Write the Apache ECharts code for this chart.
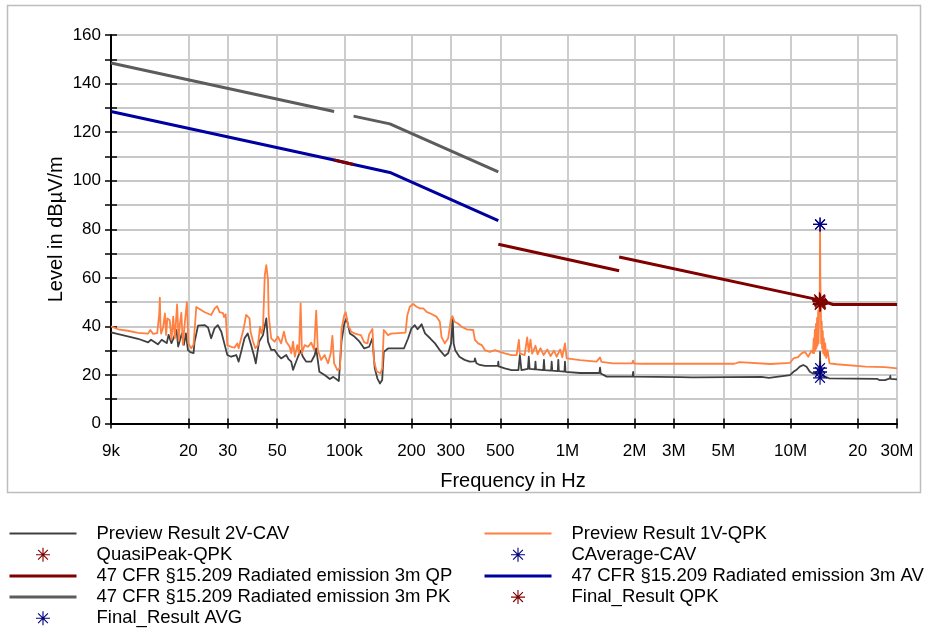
<!DOCTYPE html>
<html>
<head>
<meta charset="utf-8">
<title>Radiated emission 9 kHz - 30 MHz</title>
<script src="https://cdn.jsdelivr.net/npm/echarts@6/dist/echarts.min.js"></script>
<style>
  html, body { margin: 0; padding: 0; background: #ffffff; }
  #chart { width: 930px; height: 630px; }
</style>
</head>
<body>
<div id="chart"></div>
<script>
const FONT = '"Liberation Sans", Arial, Helvetica, sans-serif';

// Frequency axis: tick positions (Hz) and their labels
const freqTicks = [9e3, 2e4, 3e4, 5e4, 1e5, 2e5, 3e5, 5e5, 1e6, 2e6, 3e6, 5e6, 1e7, 2e7, 3e7];
const freqTickLabels = ['9k', '20', '30', '50', '100k', '200', '300', '500', '1M', '2M', '3M', '5M', '10M', '20', '30M'];

// Level axis (dBµV/m)
const levelMin = 0;
const levelMax = 160;
const levelStep = 10;

// Preview scan, CAV detector, vertical 2 [Hz, dBµV/m]
const previewCav = [
  [9.0e3,37.5],[10.7e3,35.9],[11.9e3,34.9],[13.2e3,33.4],[13.6e3,34.5],[14.6e3,32.6],[15.2e3,34.5],
  [15.6e3,33.8],[16.0e3,33.1],[16.3e3,36.5],[16.5e3,37.1],[16.8e3,33.1],[17.1e3,32.4],[17.4e3,36.5],
  [17.7e3,38.5],[18.0e3,31.7],[18.3e3,31.0],[18.7e3,37.1],[19.1e3,32.4],[19.5e3,37.1],[19.9e3,30.3],
  [20.4e3,29.4],[21.1e3,29.0],[21.3e3,33.4],[22.1e3,40.3],[23.7e3,40.5],[24.5e3,39.5],[25.3e3,35.1],
  [26.2e3,39.2],[27.1e3,40.5],[28.1e3,37.8],[28.9e3,33.4],[29.9e3,28.2],[31.1e3,27.5],[32.8e3,28.2],
  [33.6e3,25.5],[34.5e3,29.6],[35.7e3,35.1],[36.9e3,37.1],[38.2e3,32.3],[39.5e3,27.5],[40.1e3,24.8],
  [41.5e3,33.7],[43.2e3,36.4],[44.7e3,43.3],[45.5e3,33.7],[47.0e3,30.3],[48.7e3,30.3],[50.4e3,28.2],
  [52.1e3,26.8],[54.9e3,28.2],[56.2e3,26.5],[57.8e3,25.5],[58.9e3,22.1],[60.0e3,24.1],[62.0e3,27.5],
  [63.7e3,30.0],[65.2e3,27.5],[67.4e3,25.5],[71.1e3,25.5],[73.7e3,28.2],[74.8e3,30.9],[77.3e3,21.3],
  [81.6e3,20.0],[86.1e3,18.3],[89.2e3,19.2],[94.5e3,17.5],[97.1e3,33.7],[100e3,41.2],[102.4e3,43.3],
  [105.9e3,37.1],[111e3,35.8],[117e3,33.7],[122.8e3,30.9],[129.2e3,31.6],[133.6e3,35.1],[136.9e3,22.7],
  [140.6e3,18.6],[144.4e3,16.5],[147.8e3,17.9],[150.3e3,29.5],[157e3,30.9],[185e3,30.9],[193e3,35.0],
  [200e3,39.2],[207e3,40.5],[213e3,38.8],[218e3,39.9],[222e3,40.9],[230e3,37.1],[243e3,35.0],
  [255e3,33.0],[268e3,30.2],[282e3,27.8],[292e3,28.9],[301e3,33.0],[306e3,43.3],[309e3,33.0],
  [314e3,30.2],[328e3,27.5],[346e3,26.2],[365e3,25.5],[383e3,25.6],[385e3,26.8],[391e3,24.8],
  [405e3,24.1],[427e3,23.7],[473e3,23.7],[488e3,23.7],[490e3,25.5],[492e3,23.5],[498e3,23.4],
  [524e3,22.7],[562e3,22.0],[603e3,22.0],[612e3,28.2],[622e3,22.0],[665e3,22.5],[671e3,27.5],
  [677e3,22.5],[715e3,22.3],[719e3,25.5],[723e3,22.3],[780e3,22.0],[785e3,26.2],[790e3,22.0],
  [845e3,21.8],[850e3,25.5],[855e3,21.8],[905e3,21.6],[910e3,26.2],[915e3,21.6],[970e3,21.4],
  [975e3,25.5],[980e3,21.3],[1.14e6,20.8],[1.39e6,20.8],[1.40e6,23.0],[1.41e6,20.6],[1.5e6,19.3],
  [1.96e6,19.3],[1.97e6,21.3],[1.98e6,19.3],[3.2e6,19.1],[3.6e6,19.0],[3.66e6,18.4],[3.72e6,19.0],
  [7.4e6,19.2],[7.5e6,18.8],[8.0e6,18.8],[8.1e6,19.3],[9.95e6,19.9],[10.3e6,21.3],[10.6e6,22.0],
  [11.0e6,23.4],[11.4e6,24.1],[11.8e6,23.4],[12.2e6,21.3],[12.6e6,20.6],[13.5e6,20.6],[13.56e6,29.5],
  [13.62e6,20.0],[14.9e6,18.6],[24.4e6,18.4],[25.0e6,17.9],[26.5e6,17.9],[27.0e6,18.4],[27.9e6,18.6],
  [28.0e6,19.6],[28.1e6,18.4],[30e6,18.2]
];

// Preview scan, QPK detector, vertical 1 [Hz, dBµV/m]
const previewQpk = [
  [9.0e3,40.0],[9.7e3,38.8],[10.7e3,38.2],[11.9e3,37.3],[13.2e3,37.0],[13.5e3,38.5],[13.9e3,36.9],
  [14.5e3,37.2],[14.8e3,45.0],[14.9e3,51.8],[15.0e3,40.0],[15.1e3,37.0],[15.4e3,39.5],[15.7e3,45.3],
  [15.9e3,36.5],[16.1e3,43.3],[16.5e3,42.5],[16.8e3,34.5],[17.1e3,44.0],[17.4e3,35.0],[17.8e3,49.0],
  [18.1e3,34.0],[18.3e3,40.5],[18.6e3,45.6],[18.9e3,32.5],[19.3e3,42.0],[19.7e3,50.0],[20.0e3,33.0],
  [20.6e3,31.0],[21.1e3,32.5],[21.7e3,48.0],[22.1e3,47.4],[23.7e3,45.8],[25.3e3,44.7],[26.2e3,47.3],
  [26.9e3,48.3],[27.6e3,45.9],[28.6e3,45.5],[28.9e3,43.8],[29.4e3,45.0],[29.9e3,32.3],[31.1e3,31.6],
  [32.2e3,31.2],[33.1e3,33.0],[33.6e3,31.0],[34.5e3,35.1],[35.4e3,39.2],[36.3e3,44.7],[37.6e3,43.3],
  [38.0e3,37.8],[39.0e3,33.7],[39.9e3,31.0],[41.0e3,32.3],[41.9e3,39.9],[42.5e3,37.1],[43.2e3,39.2],
  [44.0e3,61.1],[44.7e3,65.2],[45.5e3,59.1],[45.8e3,44.7],[47.0e3,35.1],[48.7e3,33.7],[50.4e3,35.8],
  [52.1e3,33.0],[53.6e3,37.8],[54.9e3,33.7],[56.9e3,31.6],[57.8e3,28.9],[58.9e3,33.7],[60.0e3,27.5],
  [61.5e3,32.3],[62.6e3,28.9],[63.7e3,49.5],[64.6e3,28.9],[66.4e3,32.3],[68.8e3,31.6],[71.1e3,33.3],
  [73.2e3,30.3],[74.8e3,46.5],[76.1e3,30.3],[78.7e3,26.2],[81.6e3,28.2],[84.6e3,24.8],[86.9e3,28.9],
  [88.4e3,36.1],[90.0e3,24.8],[93.1e3,22.0],[95.6e3,22.7],[97.2e3,39.1],[100e3,44.7],[101.5e3,45.8],
  [103.8e3,40.5],[107.4e3,37.8],[111e3,37.1],[114.8e3,36.7],[118.7e3,36.4],[122.8e3,33.4],[127e3,33.0],
  [129.2e3,36.7],[133.6e3,38.9],[135.9e3,25.5],[139.7e3,21.4],[145.3e3,20.7],[147.8e3,22.7],
  [150.3e3,38.5],[157e3,36.4],[162e3,37.0],[188e3,37.4],[191.6e3,44.6],[196.5e3,48.1],[203.5e3,49.2],
  [210.8e3,48.1],[218.2e3,47.4],[225.9e3,47.4],[233.9e3,46.0],[246e3,45.1],[258.9e3,44.0],[268e3,41.9],
  [272.6e3,35.7],[282e3,33.0],[292e3,35.1],[300e3,42.6],[305e3,44.2],[312e3,41.9],[323e3,41.2],
  [335e3,39.9],[353e3,38.8],[378e3,38.5],[385e3,34.4],[398e3,33.0],[413e3,32.3],[427e3,30.2],
  [449e3,29.5],[473e3,30.2],[498e3,29.5],[524e3,28.9],[562e3,28.2],[592e3,28.2],[606e3,34.4],
  [612e3,28.9],[643e3,28.2],[660e3,35.5],[671e3,29.5],[683e3,34.5],[695e3,28.8],[719e3,32.0],
  [735e3,28.5],[757e3,31.0],[782e3,28.2],[812e3,30.5],[840e3,27.8],[870e3,30.0],[895e3,27.5],
  [928e3,30.5],[948e3,27.3],[975e3,33.0],[992e3,26.8],[1.14e6,26.1],[1.35e6,25.5],[1.40e6,27.2],
  [1.42e6,25.4],[1.6e6,24.8],[1.95e6,24.8],[1.97e6,25.9],[1.99e6,24.7],[2.18e6,24.6],[3.2e6,24.6],
  [5.6e6,24.6],[5.7e6,25.3],[5.9e6,25.3],[6.0e6,24.6],[8.1e6,24.5],[9.95e6,25.0],[10.3e6,26.8],
  [10.8e6,27.3],[11.2e6,28.9],[11.6e6,29.5],[12.0e6,27.5],[12.4e6,30.0],[12.6e6,29.0],[12.7e6,35.0],
  [12.75e6,29.0],[12.85e6,38.5],[12.9e6,30.0],[13.0e6,41.0],[13.05e6,31.0],[13.15e6,43.5],[13.2e6,32.0],
  [13.3e6,46.5],[13.35e6,33.0],[13.45e6,50.0],[13.52e6,55.0],[13.56e6,82.0],[13.6e6,60.0],[13.68e6,46.0],
  [13.72e6,33.0],[13.8e6,42.0],[13.85e6,31.0],[13.95e6,38.0],[14.0e6,29.0],[14.1e6,35.0],[14.2e6,28.0],
  [14.3e6,33.0],[14.45e6,27.0],[14.65e6,30.2],[14.95e6,24.8],[16.1e6,24.4],[21.7e6,23.4],[26.5e6,23.2],
  [26.7e6,24.0],[26.9e6,23.0],[30e6,22.7]
];

// 47 CFR §15.209 limits at 3 m [Hz, dBµV/m]; null marks a break in the line
const limitQP = [
  [9.0e4,108.5],[1.1e5,106.7],[2.0e5,null],[4.9e5,73.8],[1.705e6,62.9],[1.705e6,null],
  [1.705e6,68.6],[1.356e7,50.8],[1.55e7,49.0],[3.0e7,49.0]
];
const limitAV = [
  [9.0e3,128.5],[9.0e4,108.5],[1.1e5,106.7],[1.6e5,103.4],[4.9e5,83.6]
];
const limitPK = [
  [9.0e3,148.5],[9.0e4,128.5],[1.0e5,null],[1.1e5,126.6],[1.6e5,123.4],[4.9e5,103.6]
];

// Measured emissions at 13.56 MHz [Hz, dBµV/m]
const quasiPeakQpk = [[13.48e6,51.0],[13.56e6,50.2],[13.64e6,49.6],[13.56e6,49.0],[13.52e6,50.6]];
const caverageCav = [[13.56e6,82.0],[13.56e6,22.8],[13.56e6,21.2],[13.56e6,18.8]];
const finalQpk = [[13.56e6,50.6],[13.6e6,49.4]];
const finalAvg = [[13.56e6,82.0],[13.56e6,21.2]];

// Frequencies are plotted on a linear value axis in log10(Hz)
const lg = f => Math.log10(f);
const toXY = arr => arr.map(([f, v]) => [lg(f), v === null ? '-' : v]);
const tickPos = freqTicks.map(lg);
function freqLabel(val) {
  for (let i = 0; i < tickPos.length; i++) {
    if (Math.abs(tickPos[i] - val) < 1e-6) return freqTickLabels[i];
  }
  return '';
}

// Asterisk marker built from four bars
const STAR = 'path://M46,0 H54 V100 H46 Z M0,46 H100 V54 H0 Z ' +
  'M12.2,17.8 L17.8,12.2 L87.8,82.2 L82.2,87.8 Z M82.2,12.2 L87.8,17.8 L17.8,87.8 L12.2,82.2 Z';

const names = {
  cav: 'Preview Result 2V-CAV',
  qpk: 'Preview Result 1V-QPK',
  qpMark: 'QuasiPeak-QPK',
  cavMark: 'CAverage-CAV',
  qp: '47 CFR §15.209 Radiated emission 3m QP',
  av: '47 CFR §15.209 Radiated emission 3m AV',
  pk: '47 CFR §15.209 Radiated emission 3m PK',
  finQpk: 'Final_Result QPK',
  finAvg: 'Final_Result AVG'
};

const colors = {
  cav: '#404040', qpk: '#ff8040', qp: '#800000', av: '#0000a0', pk: '#5c5c5c',
  markRed: '#800000', markBlue: '#000080'
};

const labelText = { fontFamily: FONT, color: '#000', fontSize: 17 };
const nameText = { fontFamily: FONT, color: '#000', fontSize: 20 };
const legendText = { fontFamily: FONT, color: '#000', fontSize: 18.5 };

const lineSeries = (name, data, color, width, z) => ({
  name, type: 'line', data: toXY(data), symbol: 'none', connectNulls: false,
  lineStyle: { color, width, cap: 'butt', join: 'round' }, itemStyle: { color },
  xAxisIndex: 0, yAxisIndex: 0, z, animation: false, silent: true
});
const markSeries = (name, data, color, size, z) => ({
  name, type: 'scatter', data: toXY(data), symbol: STAR, symbolSize: size,
  itemStyle: { color, opacity: 1 }, xAxisIndex: 0, yAxisIndex: 0, z, animation: false, silent: true
});

// Legend entries: line entries hide the marker dot that line legends draw by default
const lineEntry = name => ({ name, itemStyle: { opacity: 0 } });
const markEntry = name => ({ name });

const legendCommon = {
  orient: 'vertical', top: 524, height: 106, padding: 0,
  itemWidth: 67, itemHeight: 14, itemGap: 2.2,
  selectedMode: false,
  textStyle: Object.assign({}, legendText, { padding: [0, 0, 0, 15] }),
  lineStyle: { width: 'inherit' }
};

const xCommon = {
  type: 'value', min: lg(9e3), max: lg(3e7), position: 'bottom', gridIndex: 0
};
const yCommon = {
  type: 'value', min: levelMin, max: levelMax, interval: levelStep, position: 'left', gridIndex: 0
};

const gridLine = { show: true, lineStyle: { color: '#c8c8c8', width: 1.8 } };
const tickStyle = { color: '#000', width: 1.5 };

const option = {
  animation: false,
  backgroundColor: '#ffffff',
  textStyle: { fontFamily: FONT },
  grid: { left: 111, right: 33, top: 35, bottom: 206.5, containLabel: false },
  graphic: [{
    type: 'rect', silent: true, z: -10,
    shape: { x: 7.5, y: 5.5, width: 913, height: 487 },
    style: { fill: 'none', stroke: '#bdbdbd', lineWidth: 1.5 }
  }],
  xAxis: [
    Object.assign({}, xCommon, {
      name: 'Frequency in Hz', nameLocation: 'middle', nameGap: 48, nameMoveOverlap: false,
      nameTextStyle: Object.assign({}, nameText, { padding: [0, 0, 0, 18] }),
      axisLine: { show: true, lineStyle: { color: '#000', width: 2 } },
      axisTick: { show: true, inside: false, length: 5, customValues: tickPos, lineStyle: tickStyle },
      axisLabel: Object.assign({}, labelText, { customValues: tickPos, margin: 19, formatter: freqLabel, showMinLabel: true, showMaxLabel: true, hideOverlap: false }),
      splitLine: gridLine
    }),
    Object.assign({}, xCommon, {
      axisLine: { show: false },
      axisTick: { show: true, inside: true, length: 5, customValues: tickPos, lineStyle: tickStyle },
      axisLabel: { show: false },
      splitLine: { show: false }
    })
  ],
  yAxis: [
    Object.assign({}, yCommon, {
      name: 'Level in dBµV/m', nameLocation: 'middle', nameGap: 45, nameRotate: 90, nameMoveOverlap: false,
      nameTextStyle: nameText,
      axisLine: { show: true, lineStyle: { color: '#000', width: 2 } },
      axisTick: { show: true, inside: false, length: 6, lineStyle: tickStyle },
      axisLabel: Object.assign({}, labelText, { margin: 10, formatter: v => (v % 20 === 0 ? String(v) : '') }),
      splitLine: gridLine
    }),
    Object.assign({}, yCommon, {
      axisLine: { show: false },
      axisTick: { show: true, inside: true, length: 6, lineStyle: tickStyle },
      axisLabel: { show: false },
      splitLine: { show: false }
    })
  ],
  legend: [
    Object.assign({}, legendCommon, {
      left: 8,
      data: [lineEntry(names.cav), markEntry(names.qpMark), lineEntry(names.qp), lineEntry(names.pk), markEntry(names.finAvg)]
    }),
    Object.assign({}, legendCommon, {
      left: 483,
      data: [lineEntry(names.qpk), markEntry(names.cavMark), lineEntry(names.av), markEntry(names.finQpk)]
    })
  ],
  series: [
    lineSeries(names.cav, previewCav, colors.cav, 1.8, 2),
    lineSeries(names.qpk, previewQpk, colors.qpk, 1.8, 3),
    lineSeries(names.pk, limitPK, colors.pk, 3, 4),
    lineSeries(names.av, limitAV, colors.av, 3, 4),
    lineSeries(names.qp, limitQP, colors.qp, 3, 5),
    markSeries(names.qpMark, quasiPeakQpk, colors.markRed, 15, 6),
    markSeries(names.finQpk, finalQpk, colors.markRed, 15, 6),
    markSeries(names.cavMark, caverageCav, colors.markBlue, 14, 7),
    markSeries(names.finAvg, finalAvg, colors.markBlue, 14, 7)
  ]
};

const chart = echarts.init(document.getElementById('chart'), null, { renderer: 'canvas', width: 930, height: 630 });
chart.setOption(option);
</script>
</body>
</html>
